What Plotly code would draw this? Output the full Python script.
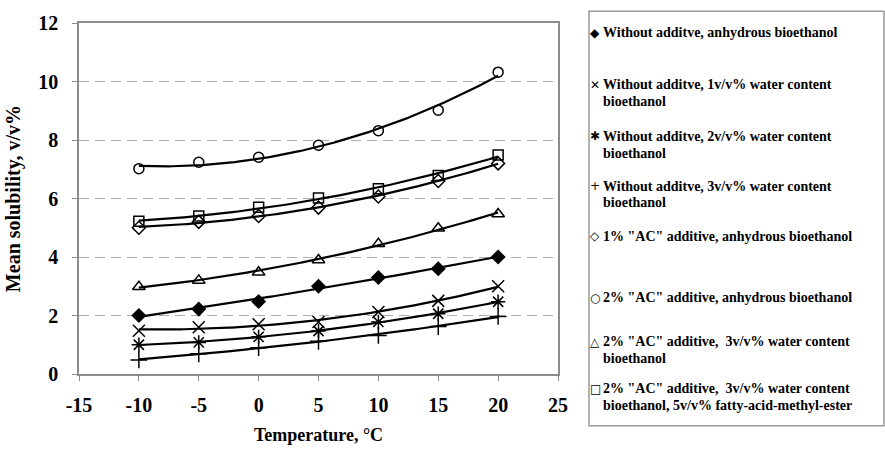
import numpy as np
import plotly.graph_objects as go

# ---- data ----
temperature = [-10, -5, 0, 5, 10, 15, 20]
labels = [
    "Without additve, anhydrous bioethanol",
    "Without additve, 1v/v% water content\nbioethanol",
    "Without additve, 2v/v% water content\nbioethanol",
    "Without additve, 3v/v% water content\nbioethanol",
    '1% "AC" additive, anhydrous bioethanol',
    '2% "AC" additive, anhydrous bioethanol',
    '2% "AC" additive,  3v/v% water content\nbioethanol',
    '2% "AC" additive,  3v/v% water content\nbioethanol, 5v/v% fatty-acid-methyl-ester',
]
s_wo_anh = [2.0, 2.22, 2.48, 3.0, 3.3, 3.6, 4.0]
s_wo_1 = [1.48, 1.6, 1.7, 1.78, 2.12, 2.5, 3.0]
s_wo_2 = [1.0, 1.08, 1.27, 1.47, 1.78, 2.06, 2.47]
s_wo_3 = [0.48, 0.69, 0.9, 1.12, 1.32, 1.62, 1.97]
s_ac1_anh = [5.0, 5.2, 5.4, 5.69, 6.07, 6.6, 7.2]
s_ac2_anh = [7.02, 7.24, 7.41, 7.82, 8.32, 9.02, 10.32]
s_ac2_3 = [2.98, 3.2, 3.48, 3.9, 4.45, 4.98, 5.47]
s_ac2_3_fame = [5.22, 5.4, 5.7, 6.02, 6.33, 6.79, 7.49]
series = [s_wo_anh, s_wo_1, s_wo_2, s_wo_3, s_ac1_anh, s_ac2_anh, s_ac2_3, s_ac2_3_fame]

x_ticks = [-15, -10, -5, 0, 5, 10, 15, 20, 25]
y_ticks = [0, 2, 4, 6, 8, 10, 12]

# ---- styles ----
symbols = ["diamond", "x-thin-open", "asterisk-open", "cross-thin-open",
           "diamond-open", "circle-open", "triangle-up-open", "square-open"]
sizes = [10, 12, 12, 12, 10, 10, 11, 10]
legend_glyphs = ["\u25C6", "\u2715", "\u2731", "+", "\u25C7", "\u25CB", "\u25B3", "\u25A1"]

W, H = 885, 459
L, R, T, B = 79, 558, 15, 374   # plot area in pixels
SERIF = "Liberation Serif"

fig = go.Figure()
xs = np.linspace(-10, 20, 121)
for vals in series:
    coef = np.polyfit(temperature, vals, 2)
    fig.add_trace(go.Scatter(x=xs, y=np.polyval(coef, xs), mode="lines",
                             line=dict(color="black", width=2.2),
                             showlegend=False, hoverinfo="skip"))
for vals, sym, sz, lab in zip(series, symbols, sizes, labels):
    fig.add_trace(go.Scatter(x=temperature, y=vals, mode="markers",
                             name=lab.replace("\n", " "),
                             marker=dict(symbol=sym, size=sz, color="black",
                                         line=dict(color="black", width=1.5)),
                             showlegend=False))

def px_x(p):
    return (p - L) / (R - L)

def px_y(p):
    return (B - p) / (B - T)

# legend box
fig.add_shape(type="rect", xref="paper", yref="paper",
              x0=px_x(589), x1=px_x(884), y0=px_y(427), y1=px_y(3),
              line=dict(color="#999999", width=1.5), fillcolor="white", layer="below")

entry_lines_y = [[25], [78, 95], [131, 148], [182, 199], [233], [296], [341, 358], [389, 406]]
for glyph, lab, ys in zip(legend_glyphs, labels, entry_lines_y):
    fig.add_annotation(xref="paper", yref="paper", x=px_x(595), y=px_y(ys[0]),
                       text=glyph, showarrow=False, xanchor="center", yanchor="middle",
                       font=dict(family="DejaVu Sans", size=12, color="black"))
    for line, yy in zip(lab.split("\n"), ys):
        fig.add_annotation(xref="paper", yref="paper", x=px_x(602), y=px_y(yy),
                           text=line, showarrow=False, xanchor="left", yanchor="middle",
                           borderpad=0,
                           font=dict(family=SERIF, size=14, color="black", weight="bold"))

fig.update_layout(
    width=W, height=H,
    margin=dict(l=L, r=W - R, t=T, b=H - B, pad=0),
    paper_bgcolor="white", plot_bgcolor="white",
    showlegend=False,
    font=dict(family=SERIF, color="black"),
)
fig.update_xaxes(range=[-15, 25], tickvals=x_ticks, ticktext=[str(v) for v in x_ticks],
                 showgrid=False, zeroline=False,
                 showline=True, linecolor="#8c8c8c", linewidth=1.5, mirror=True,
                 ticks="outside", ticklen=5, tickcolor="#8c8c8c",
                 tickfont=dict(family=SERIF, size=20, color="black", weight="bold"),
                 ticklabelstandoff=7,
                 title=dict(text="Temperature, \u00b0C", standoff=14,
                            font=dict(family=SERIF, size=18, color="black", weight="bold")))
fig.update_yaxes(range=[0, 12], tickvals=y_ticks, ticktext=[str(v) for v in y_ticks],
                 showgrid=True, gridcolor="#b0b0b0", griddash="10px,6px", gridwidth=1,
                 zeroline=False,
                 showline=True, linecolor="#8c8c8c", linewidth=1.5, mirror=True,
                 ticks="outside", ticklen=5, tickcolor="#8c8c8c",
                 tickfont=dict(family=SERIF, size=20, color="black", weight="bold"),
                 ticklabelstandoff=10,
                 title=dict(text="Mean solubility, v/v%", standoff=12,
                            font=dict(family=SERIF, size=20, color="black", weight="bold")))

fig.write_html("out.html")
